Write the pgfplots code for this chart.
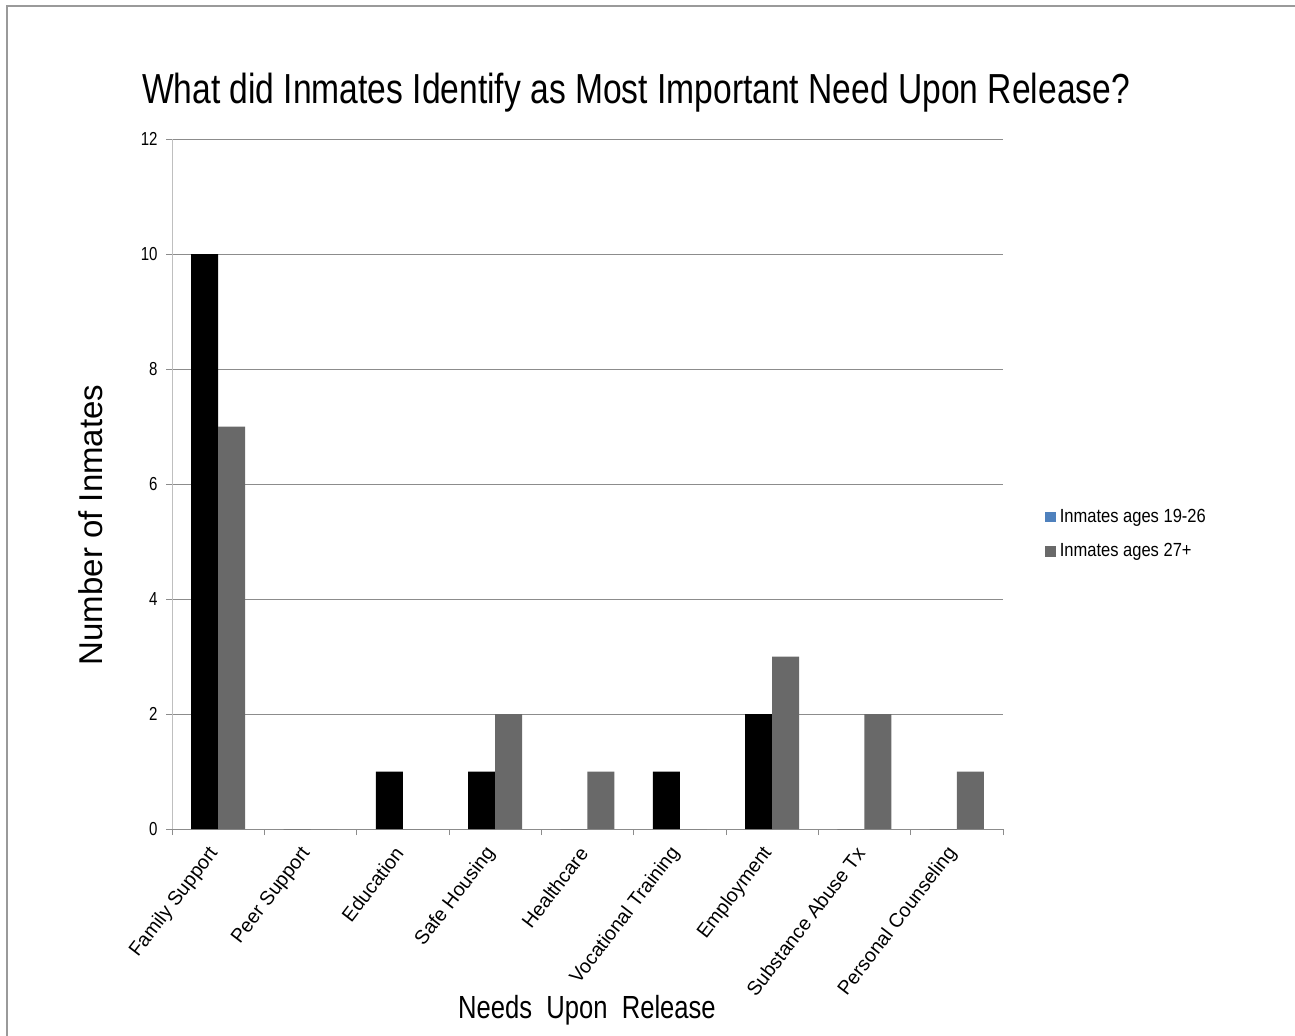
\documentclass[border=0pt]{standalone}
\usepackage{fontspec}
\usepackage{pgfplots}
\pgfplotsset{compat=1.18}
\setmainfont{Liberation Sans}[FakeStretch=0.8]
\newfontfamily\plainsans{Liberation Sans}
\newfontfamily\legendsans{Liberation Sans}[FakeStretch=0.87]

\definecolor{youngblue}{HTML}{4F81BD}
\definecolor{oldgray}{HTML}{696969}
\definecolor{gridgray}{HTML}{8C8C8C}
\definecolor{axisgray}{HTML}{BFBFBF}
\definecolor{framegray}{HTML}{9A9A9A}

\begin{document}
\begin{tikzpicture}
\useasboundingbox (0,0) rectangle (647.5pt,-517.5pt);
% outer chart frame
\draw[framegray, line width=1pt] (3.5pt,-520pt) -- (3.5pt,-3pt) -- (650pt,-3pt);

\begin{axis}[
  at={(86pt,-414.5pt)}, anchor=south west,
  scale only axis, width=415.5pt, height=345pt,
  ybar, bar width=13.5pt,
  xmin=-0.5, xmax=8.5, ymin=0, ymax=12,
  axis x line*=bottom, axis y line*=left,
  x axis line style={gridgray, -},
  y axis line style={axisgray, -},
  ytick={0,2,...,12},
  ymajorgrids, grid style={gridgray, line width=0.5pt},
  ytick style={gridgray}, tick align=outside,
  major tick length=3pt,
  /pgf/number format/assume math mode=true,
  yticklabel style={font=\fontsize{9.4}{10}\selectfont, inner sep=0pt, xshift=-4pt},
  xtick={0,...,8},
  x tick style={draw=none},
  xticklabels={Family Support, Peer Support, Education, Safe Housing, Healthcare,
    Vocational Training, Employment, Substance Abuse Tx, Personal Counseling},
  xticklabel style={font=\plainsans\fontsize{9.8}{11}\selectfont,
    xshift=-1.2pt, yshift=-6.5pt, rotate=52.5, anchor=east, inner sep=1pt},
  extra x ticks={-0.5,0.5,...,8.5},
  extra x tick labels={},
  extra x tick style={grid=none, x tick style={draw=gridgray}, major tick length=3pt},
  legend style={at={(1.0505,0.47)}, anchor=north west, draw=none, fill=none,
    font=\legendsans\fontsize{9.5}{11}\selectfont, row sep=5pt, inner sep=0pt},
  legend cell align=left,
  legend image code/.code={\fill[#1] (0pt,-2.6pt) rectangle (5.2pt,2.6pt);},
]
\addplot[fill=black, draw=none, bar shift=-6.75pt,
  legend image post style={fill=youngblue, draw=black!75, line width=0.5pt}]
  coordinates {(0,10) (1,0) (2,1) (3,1) (4,0) (5,1) (6,2) (7,0) (8,0)};
\addlegendentry{Inmates ages 19-26}
\addplot[fill=oldgray, draw=none, bar shift=6.75pt]
  coordinates {(0,7) (1,0) (2,0) (3,2) (4,1) (5,0) (6,3) (7,2) (8,1)};
\addlegendentry{Inmates ages 27+}
\end{axis}

\node[anchor=base, font=\fontsize{21}{25}\selectfont] at (318pt,-51.5pt)
  {What did Inmates Identify as Most Important Need Upon Release?};
\node[anchor=base, font=\fontsize{16}{19}\selectfont] at (293.5pt,-509pt)
  {Needs\ \ Upon\ \ Release};
\node[anchor=base, rotate=90, font=\plainsans\fontsize{16.5}{19}\selectfont] at (51pt,-262.5pt)
  {Number of Inmates};
\end{tikzpicture}
\end{document}
